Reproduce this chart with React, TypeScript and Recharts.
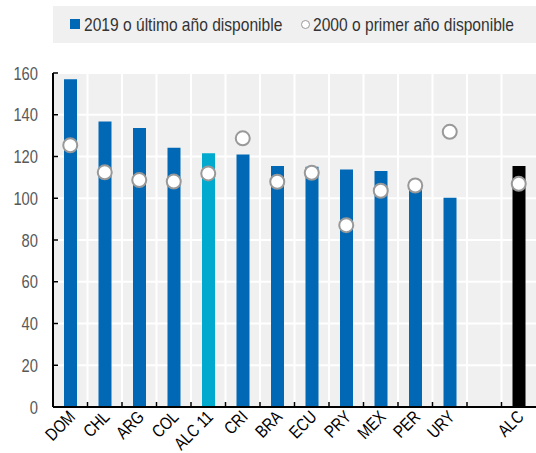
import React from 'react';
import { ComposedChart, Bar, Line, Cell, XAxis, YAxis, CartesianGrid } from 'recharts';

const countries = ['DOM', 'CHL', 'ARG', 'COL', 'ALC 11', 'CRI', 'BRA', 'ECU', 'PRY', 'MEX', 'PER', 'URY', '', 'ALC'];
const latest = [157, 136.8, 133.6, 124.2, 121.5, 121, 115.4, 115.1, 113.8, 113, 105.5, 100.2, null, 115.4];
const first = [125.4, 112.4, 108.7, 108, 111.9, 128.7, 107.9, 112.2, 87.1, 103.6, 106.1, 131.8, null, 106.9];
const yTicks = [0, 20, 40, 60, 80, 100, 120, 140, 160];

// no Arial Narrow here, so squeeze Liberation Sans
const FONT = '"Liberation Sans", Arial, sans-serif';
const NARROW = 0.82;
const BLUE = '#0068b4';
const CYAN = '#00a9ce';

const W = 536;
const H = 453;
const LEFT = 53;
const step = (W - LEFT) / countries.length;

const data = countries.map((c, i) => ({ name: c, latest: latest[i], first: first[i] }));

const barColor = (name: string) => (name === 'ALC 11' ? CYAN : name === 'ALC' ? '#000000' : BLUE);

const XTick = (props: any) => {
  const { x, y, payload } = props;
  const tx = x + 6;
  const ty = y + 11;
  return (
    <g>
      <line x1={x - step / 2} x2={x - step / 2} y1={y - 5} y2={y} stroke="#000" strokeWidth={1.5} />
      <text x={0} y={0} textAnchor="end" fontSize={17.5} fill="#000" fontFamily={FONT}
        transform={`translate(${tx}, ${ty}) rotate(-45) scale(${NARROW}, 1)`}>
        {payload.value}
      </text>
    </g>
  );
};

const YTick = (props: any) => {
  const { x, y, payload } = props;
  return (
    <g>
      <line x1={x} x2={x + 5} y1={y} y2={y} stroke="#000" strokeWidth={1.5} />
      <text x={0} y={0} textAnchor="end" fontSize={18} fill="#595959" fontFamily={FONT}
        transform={`translate(${x - 15}, ${y + 6.5}) scale(${NARROW}, 1)`}>
        {payload.value}
      </text>
    </g>
  );
};

const squeeze: React.CSSProperties = {
  position: 'absolute',
  top: 0,
  whiteSpace: 'nowrap',
  transform: `scaleX(${NARROW})`,
  transformOrigin: 'left center',
  lineHeight: '37px',
};

const LegendBox = () => (
  <div style={{ position: 'absolute', left: LEFT, top: 6, width: W - LEFT, height: 37, background: '#f0f0f0' }}>
    <div style={{ position: 'relative', fontFamily: FONT, fontSize: 19, color: '#333' }}>
      <span style={{ position: 'absolute', left: 17, top: 13, width: 10, height: 10, background: BLUE }} />
      <span style={{ ...squeeze, left: 31 }}>2019 o último año disponible</span>
      <span style={{ position: 'absolute', left: 248, top: 14, width: 7, height: 7, borderRadius: '50%', border: '1.5px solid #999', background: '#fff' }} />
      <span style={{ ...squeeze, left: 260 }}>2000 o primer año disponible</span>
    </div>
  </div>
);

const App: React.FC = () => {
  return (
    <div style={{ position: 'absolute', left: 0, top: 0, width: W, height: H, background: '#fff' }}>
      <ComposedChart width={W} height={H} data={data} margin={{ top: 73, right: 0, left: 8, bottom: 0 }} barCategoryGap={0}>
        <CartesianGrid fill="#f0f0f0" stroke="#ffffff" strokeWidth={2}
          horizontalValues={yTicks}
          verticalCoordinatesGenerator={({ offset }: any) =>
            countries.map((_, i) => offset.left + i * (offset.width / countries.length)).slice(1)} />
        <XAxis dataKey="name" interval={0} height={46} tickSize={0} tickMargin={0}
          axisLine={{ stroke: '#000', strokeWidth: 2 }} tickLine={false} tick={<XTick />} />
        <YAxis domain={[0, 160]} ticks={yTicks} width={45} tickSize={0} tickMargin={0}
          axisLine={{ stroke: '#000', strokeWidth: 2 }} tickLine={false} tick={<YTick />} />
        <Bar dataKey="latest" barSize={13} isAnimationActive={false}>
          {data.map((d, i) => (
            <Cell key={i} fill={barColor(d.name)} />
          ))}
        </Bar>
        <Line dataKey="first" stroke="none" isAnimationActive={false} activeDot={false}
          dot={{ r: 7, fill: '#ffffff', stroke: '#999999', strokeWidth: 2 }} />
      </ComposedChart>
      <LegendBox />
    </div>
  );
};

export default App;
